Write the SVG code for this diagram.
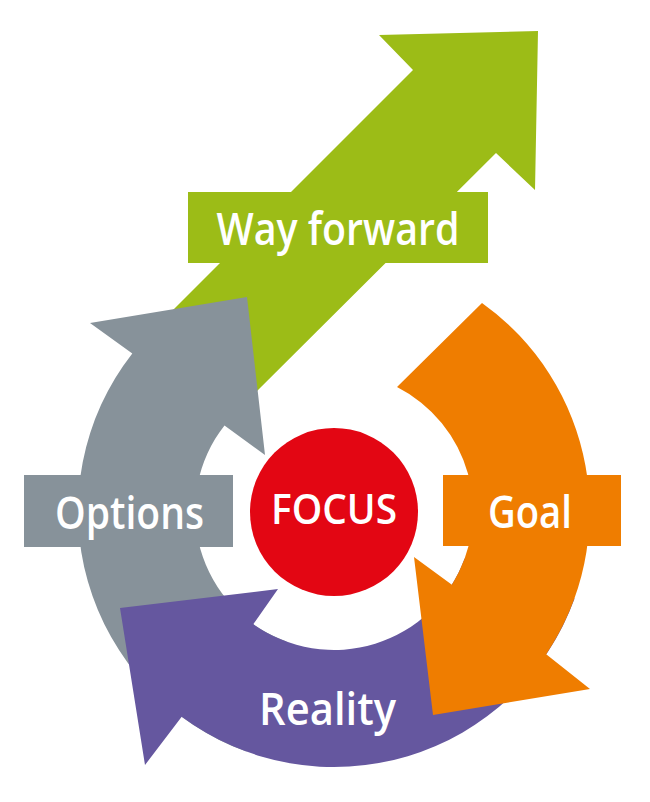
<svg xmlns="http://www.w3.org/2000/svg" width="650" height="802" viewBox="0 0 650 802">
<style>
.lbl{font-family:"Open Sans","Noto Sans","Liberation Sans",sans-serif;font-weight:600;fill:#ffffff;text-anchor:middle}
</style>
<rect width="650" height="802" fill="#ffffff"/>
<g id="connectors"/>
<g id="way-forward">
<polygon points="151.5,331.5 413,70 379,35 538,31 535,190 496,153 234,414" fill="#9cbc17"/>
<rect x="188" y="192" width="300" height="71" fill="#9cbc17"/>
<text class="lbl" x="338" y="245" font-size="45" textLength="243" lengthAdjust="spacingAndGlyphs">Way forward</text>
</g>
<g id="options">
<path d="M246.4,751.6 A256,256 0 0 1 132.3,353.4 L90,323 L247,297 L265,455 L224.5,425.4 A139,139 0 0 0 286.5,641.6 Z" fill="#87929a"/>
<rect x="24" y="475" width="209" height="72" fill="#87929a"/>
<text class="lbl" x="129.5" y="529" font-size="45" textLength="149" lengthAdjust="spacingAndGlyphs">Options</text>
</g>
<g id="reality">
<path d="M574.6,598.6 A256,256 0 0 1 181.7,716.8 L145,765 L120,608 L278,589 L253.3,624.2 A139,139 0 0 0 464.6,558.5 Z" fill="#65579f"/>
<text class="lbl" x="327.5" y="725" font-size="45" textLength="137" lengthAdjust="spacingAndGlyphs">Reality</text>
</g>
<g id="goal">
<path d="M482,303 A256,256 0 0 1 546.2,654.2 L590,689 L433,715 L414,557 L451.9,584.7 A139,139 0 0 0 397,387 Z" fill="#ef7d00"/>
<rect x="443" y="475" width="178" height="71" fill="#ef7d00"/>
<text class="lbl" x="530" y="528" font-size="45" textLength="84" lengthAdjust="spacingAndGlyphs">Goal</text>
</g>
<g id="focus">
<circle cx="334" cy="512" r="84" fill="#e30613"/>
<text class="lbl" x="334" y="524" font-size="42" textLength="126" lengthAdjust="spacingAndGlyphs">FOCUS</text>
</g>
</svg>
